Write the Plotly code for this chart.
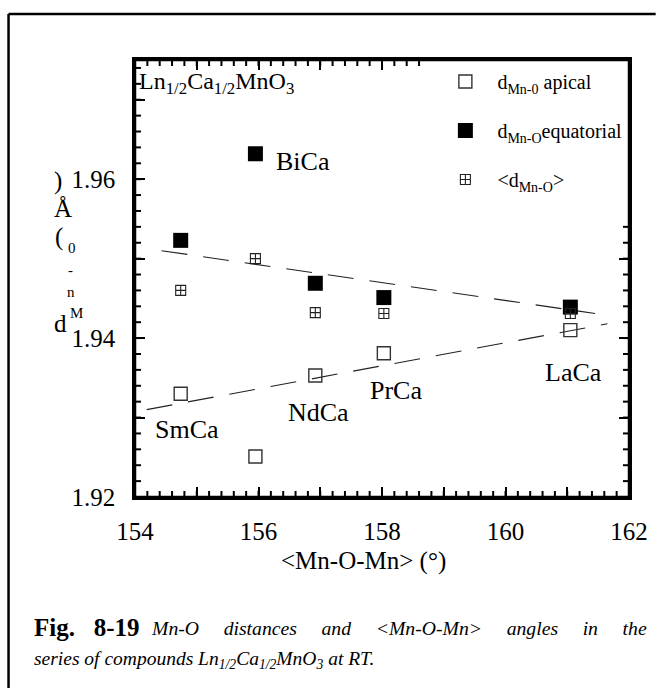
import plotly.graph_objects as go

# Ln1/2Ca1/2MnO3 at room temperature: Mn-O bond distances vs mean Mn-O-Mn angle
compounds = ["SmCa", "BiCa", "NdCa", "PrCa", "LaCa"]
angle = [154.74, 155.95, 156.92, 158.03, 161.05]
d_apical = [1.9330, 1.9251, 1.9353, 1.9381, 1.9410]
d_equatorial = [1.9523, 1.9632, 1.9469, 1.9451, 1.9439]
d_mean = [1.9460, 1.9500, 1.9432, 1.9431, 1.9431]

# linear guides drawn through the equatorial and apical trends
fit_eq_x = [154.43, 161.45]
fit_eq_y = [1.9510, 1.9431]
fit_ap_x = [154.19, 161.65]
fit_ap_y = [1.9310, 1.9418]

X_RANGE = [154, 162]
Y_RANGE = [1.92, 1.975]
X_MINOR_STEP = 0.2
Y_MINOR_STEP = 0.002

SERIF = "Liberation Serif"
W, H = 660, 688
ML, MR, MT, MB = 135, 25, 60, 191
PW, PH = W - ML - MR, H - MT - MB


def px(xp):
    return (xp - ML) / PW


def py(yp):
    return (H - MB - yp) / PH


fig = go.Figure()

dash_style = dict(color="#222", width=1.1, dash="26px,16px")
fig.add_trace(go.Scatter(x=fit_eq_x, y=fit_eq_y, mode="lines", line=dash_style,
                         showlegend=False, hoverinfo="skip"))
fig.add_trace(go.Scatter(x=fit_ap_x, y=fit_ap_y, mode="lines", line=dash_style,
                         showlegend=False, hoverinfo="skip"))

fig.add_trace(go.Scatter(
    x=angle, y=d_apical, mode="markers", name="d<sub>Mn-0</sub> apical",
    legendgroup="a",
    marker=dict(symbol="square-open", size=13, color="#333", line=dict(width=1.4, color="#333")),
))
fig.add_trace(go.Scatter(
    x=angle, y=d_equatorial, mode="markers", name="d<sub>Mn-O</sub>equatorial",
    legendgroup="b",
    marker=dict(symbol="square", size=15, color="black"),
))
fig.add_trace(go.Scatter(
    x=angle, y=d_mean, mode="markers", name="&lt;d<sub>Mn-O</sub>&gt;",
    legendgroup="c",
    marker=dict(symbol="square-cross-open", size=10, color="#222", line=dict(width=1.1, color="#222")),
))

# compound labels, offset in pixels from the plotted point they name
label_anchor = {
    "SmCa": (d_apical, 6, -36),
    "BiCa": (d_equatorial, 48, -8),
    "NdCa": (d_apical, 3, -37),
    "PrCa": (d_apical, 12, -37),
    "LaCa": (d_apical, 3, -42),
}
annotations = []
for i, name in enumerate(compounds):
    series, dx, dy = label_anchor[name]
    annotations.append(dict(
        x=angle[i], y=series[i], xref="x", yref="y", text=name, showarrow=False,
        xshift=dx, yshift=dy, font=dict(family=SERIF, size=26, color="black"),
    ))

# formula inside the frame
annotations.append(dict(
    x=px(137), y=py(83), xref="paper", yref="paper", xanchor="left", yanchor="middle",
    text="Ln<sub>1/2</sub>Ca<sub>1/2</sub>MnO<sub>3</sub>", showarrow=False,
    font=dict(family=SERIF, size=24, color="black"),
))

# stacked y-axis label characters
ylab = [
    (")", 57, 181, 25), ("Å", 62, 208, 25), ("(", 58, 237, 25), ("0", 71, 248, 15),
    ("-", 70, 270, 15), ("n", 70, 292, 15), ("M", 76, 313, 15), ("d", 60, 323, 25),
]
for ch, xx, yy, fs in ylab:
    annotations.append(dict(
        x=px(xx), y=py(yy), xref="paper", yref="paper", text=ch, showarrow=False,
        xanchor="center", yanchor="middle", font=dict(family=SERIF, size=fs, color="black"),
    ))

# x-axis title
annotations.append(dict(
    x=px(366), y=py(561), xref="paper", yref="paper", text="&lt;Mn-O-Mn&gt; (°)",
    showarrow=False, xanchor="center", yanchor="middle",
    font=dict(family=SERIF, size=25, color="black"),
))

# caption
gap = "\u00a0\u00a0\u00a0\u00a0 "
annotations.append(dict(
    x=px(31), y=py(627), xref="paper", yref="paper", xanchor="left", yanchor="middle",
    text="<b>Fig.\u00a0\u00a0 8-19</b>", showarrow=False,
    font=dict(family=SERIF, size=25, color="black"),
))
annotations.append(dict(
    x=px(655), y=py(628), xref="paper", yref="paper", xanchor="right", yanchor="middle",
    text="<i>" + gap.join(["Mn-O", "distances", "and", "&lt;Mn-O-Mn&gt;", "angles", "in", "the"]) + "</i>",
    showarrow=False, font=dict(family=SERIF, size=19.7, color="black"),
))
annotations.append(dict(
    x=px(31), y=py(660), xref="paper", yref="paper", xanchor="left", yanchor="middle",
    text="<i>series of compounds Ln<sub>1/2</sub>Ca<sub>1/2</sub>MnO<sub>3</sub> at RT.</i>",
    showarrow=False, font=dict(family=SERIF, size=19.5, color="black"),
))

# short inward ticks on all four sides, sized in pixels from the frame edges
tick_line = dict(color="black", width=2)
shapes = []
n_x = int(round((X_RANGE[1] - X_RANGE[0]) / X_MINOR_STEP))
for k in range(1, n_x):
    xv = X_RANGE[0] + k * X_MINOR_STEP
    for edge, direction in ((0, 6), (1, -6)):
        shapes.append(dict(type="line", xref="x", yref="paper", ysizemode="pixel",
                           yanchor=edge, x0=xv, x1=xv, y0=0, y1=direction,
                           line=tick_line, layer="above"))
n_y = int(round((Y_RANGE[1] - Y_RANGE[0]) / Y_MINOR_STEP))
for k in range(1, n_y + 1):
    yv = Y_RANGE[0] + k * Y_MINOR_STEP
    if yv >= Y_RANGE[1]:
        break
    for edge, direction in ((0, 6), (1, -6)):
        shapes.append(dict(type="line", xref="paper", yref="y", xsizemode="pixel",
                           xanchor=edge, x0=0, x1=direction, y0=yv, y1=yv,
                           line=tick_line, layer="above"))

shapes += [
    # blank panel behind the legend (hides the frame ticks there)
    dict(type="rect", xref="paper", yref="paper", x0=px(425), x1=1, y0=py(218), y1=1,
         fillcolor="white", line=dict(width=0), layer="above"),
    # plot frame
    dict(type="rect", xref="paper", yref="paper", x0=0, x1=1, y0=0, y1=1,
         line=dict(color="black", width=2.5), layer="above"),
    # outer page border
    dict(type="line", xref="paper", yref="paper", x0=px(7), x1=px(662), y0=py(14), y1=py(14),
         line=dict(color="black", width=2.5)),
    dict(type="line", xref="paper", yref="paper", x0=px(7), x1=px(7), y0=py(14), y1=py(690),
         line=dict(color="black", width=2.5)),
]

base = dict(
    showgrid=False, zeroline=False, showline=True, linecolor="black", linewidth=2.5,
    mirror="ticks", ticks="inside", ticklen=10, tickwidth=2, tickcolor="black",
    tickmode="linear", ticklabelstep=2,
    tickfont=dict(family=SERIF, size=25, color="black"),
)

fig.update_xaxes(range=X_RANGE, tick0=154, dtick=1, ticklabelstandoff=10, **base)
fig.update_yaxes(range=Y_RANGE, tick0=1.92, dtick=0.01, tickformat=".2f",
                 ticklabelstandoff=12, **base)

fig.update_layout(
    width=W, height=H,
    margin=dict(l=ML, r=MR, t=MT, b=MB),
    paper_bgcolor="white", plot_bgcolor="white",
    font=dict(family=SERIF, color="black"),
    showlegend=True,
    legend=dict(
        x=px(437), y=py(62), xanchor="left", yanchor="top",
        bgcolor="rgba(0,0,0,0)", borderwidth=0,
        font=dict(family=SERIF, size=20, color="black"),
        itemwidth=54, tracegroupgap=20, traceorder="grouped",
    ),
    annotations=annotations,
    shapes=shapes,
)

fig.write_html("out.html")
